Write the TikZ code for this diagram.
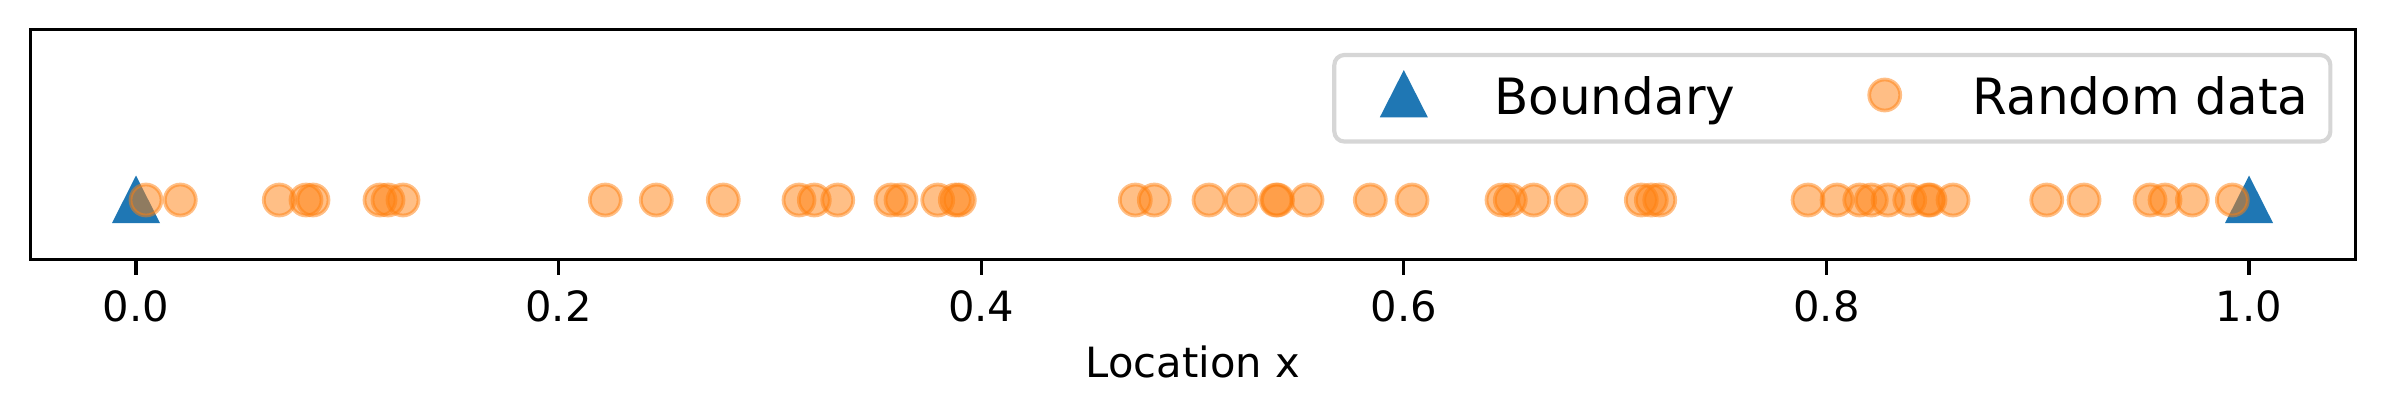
\documentclass[tikz,border=0pt]{standalone}
\usepackage{fontspec}
\setmainfont{DejaVu Sans}
\definecolor{cZero}{HTML}{1F77B4}
\definecolor{cOne}{HTML}{FF7F0E}
\definecolor{legedge}{HTML}{D6D6D6}
\begin{document}
\begin{tikzpicture}[x=0.24pt,y=-0.24pt,
  dot/.style={fill=cOne, draw=cOne, opacity=0.5, line width=0.9pt},
  tri/.style={fill=cZero},
  ticklab/.style={font=\fontsize{10}{12}\selectfont, anchor=base, inner sep=0pt},
  legtext/.style={font=\fontsize{12}{14.4}\selectfont, anchor=base west, inner sep=0pt},
  spine/.style={line width=0.8pt},
  legframe/.style={draw=legedge, fill=white, fill opacity=0.8, line width=1pt, rounded corners=2.4pt}
]
\useasboundingbox (0,0) rectangle (2385,416);
% boundary markers
\fill[tri] (136,175.5) -- (112,223) -- (160,223) -- cycle;
\fill[tri] (2249,175.5) -- (2225,223) -- (2273,223) -- cycle;
% random data
\foreach \p in {146,180.3,279.3,306,313,380,388,403,605.3,656.3,723.3,799,814.3,837.7,891,901,937.7,955.3,959.3,1135.3,1154.3,1209,1241.3,1276,1277.5,1307,1370.3,1412,1502,1510.3,1533.7,1571,1641.3,1651.3,1659.7,1808,1837,1859.7,1871.3,1888,1909.7,1928,1930,1953,2046.7,2084,2150,2165,2192.3,2232.3}
  \draw[dot] (\p,200) circle[radius=15.5];
% axes frame
\draw[spine] (30.3,29.5) rectangle (2355.5,259.5);
% ticks and labels
\foreach \x/\l [count=\i] in {136/0.0,558.6/0.2,981.2/0.4,1403.8/0.6,1826.4/0.8,2249/1.0}{
  \draw[spine] (\x,259.5) -- (\x,275);
  \node[ticklab] (tick\i) at (\x,321) {\l};
}
\node[ticklab] (xlabel) at (1193,377.7) {Location x};
% legend
\draw[legframe] (1334.3,55) rectangle (2330.3,141.5);
\fill[tri] (1403.8,70) -- (1379.8,117.3) -- (1427.8,117.3) -- cycle;
\node[legtext] (legB) at (1493.5,114) {Boundary};
\draw[dot] (1884.7,95) circle[radius=15.5];
\node[legtext] (legR) at (1972,114) {Random data};
\end{tikzpicture}
\end{document}
